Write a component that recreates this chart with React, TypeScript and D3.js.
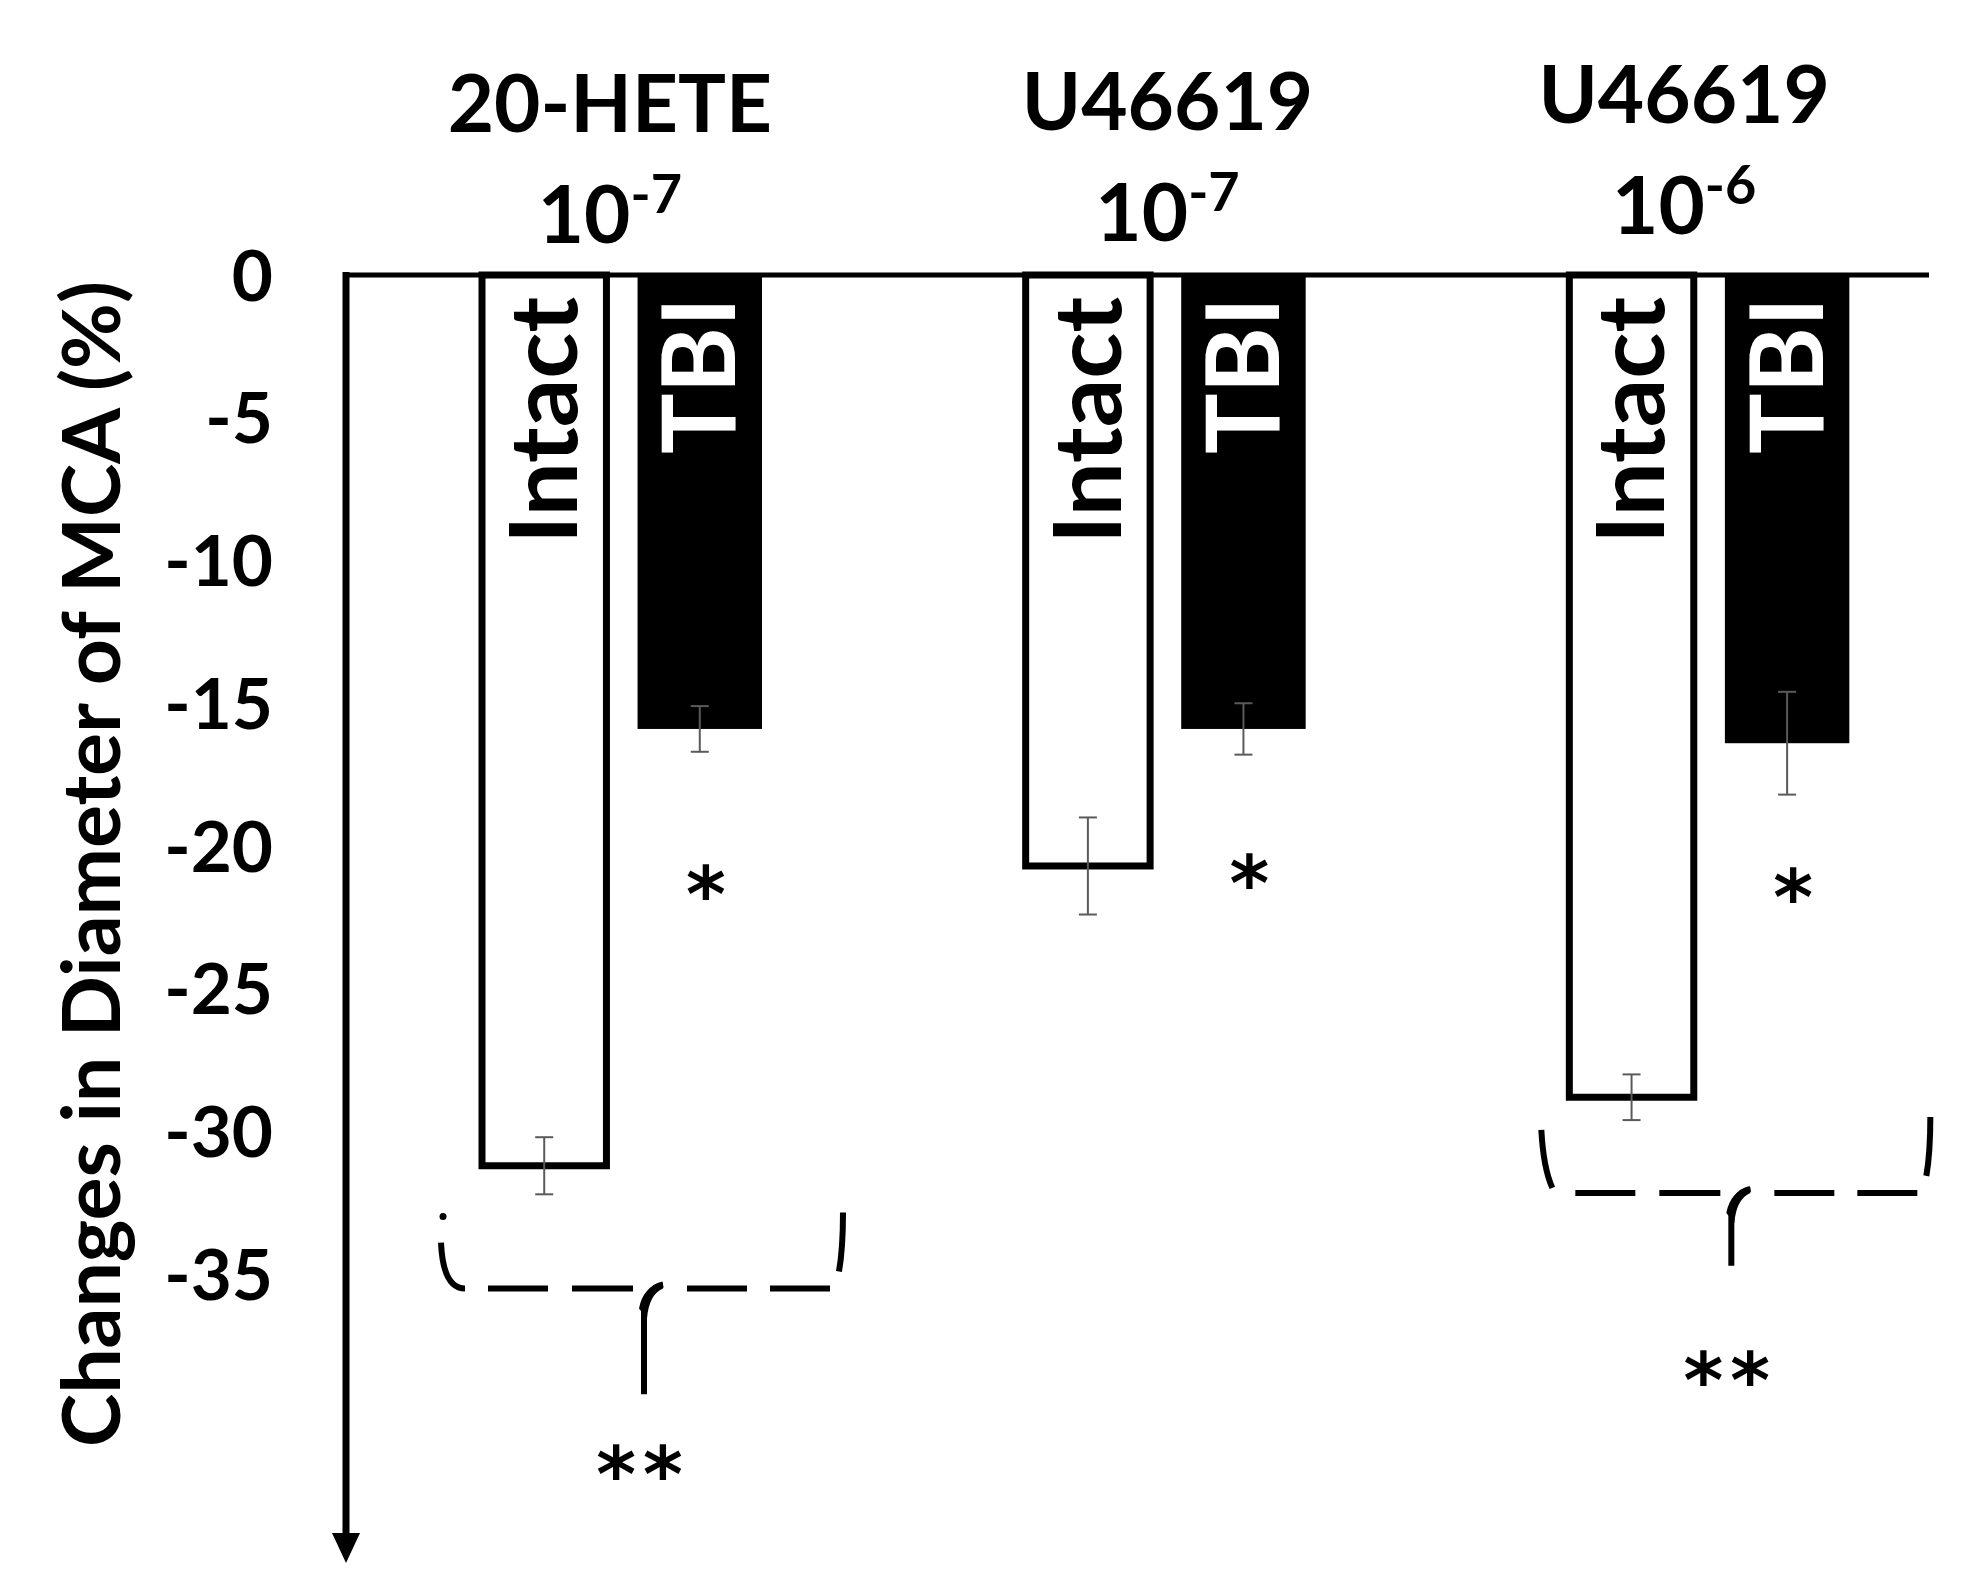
import React from "react";
import * as d3 from "d3";

// ---- data ----
const groupNames = ["20-HETE", "U46619", "U46619"];
const groupExponents = ["-7", "-7", "-6"];
const seriesNames = ["Intact", "TBI"];
const intactValues = [-31.2, -20.7, -28.8];
const intactErrors = [1.0, 1.7, 0.8];
const tbiValues = [-15.9, -15.9, -16.4];
const tbiErrors = [0.8, 0.9, 1.8];
const yTicks = [0, -5, -10, -15, -20, -25, -30, -35];
const singleStarY = [-21.1, -20.7, -21.2];
const bracketGroups = [0, 2];
const bracketY = [-35.5, -32.15];
const bracketStemEnd = [-39.2, -34.7];
const doubleStarY = [-41.4, -38.1];

const W = 1986;
const H = 1575;
const FONT = "Lato, 'Open Sans', 'DejaVu Sans', sans-serif";
const STAR_FONT = "'DejaVu Sans', sans-serif";

export default function App() {
  const keys = groupNames.map((_, i) => String(i));
  const x0 = d3.scaleBand<string>().domain(keys).range([350, 1981]).padding(0);
  const x1 = d3.scaleBand<string>().domain(seriesNames).range([132, 412]).paddingInner(0.2).paddingOuter(0);
  const y = d3.scaleLinear().domain([0, -35]).range([275, 275 + 35 * 28.55]);
  const bw = x1.bandwidth();
  const axisX = 346;
  const labelShift = [-12, 2, -25];
  const labelDy = [0, -2, -9];

  const bars: { g: number; s: string; v: number; e: number }[] = [];
  groupNames.forEach((_, g) => {
    bars.push({ g, s: "Intact", v: intactValues[g], e: intactErrors[g] });
    bars.push({ g, s: "TBI", v: tbiValues[g], e: tbiErrors[g] });
  });

  return (
    <svg
      width={W}
      height={H}
      viewBox={`0 0 ${W} ${H}`}
      style={{ position: "absolute", left: 0, top: 0, display: "block", background: "#fff" }}
    >
      <rect x={0} y={0} width={W} height={H} fill="#fff" />

      {/* group labels */}
      {groupNames.map((name, g) => {
        const cx = (x0(String(g)) as number) + x0.bandwidth() / 2 + labelShift[g];
        return (
          <g key={"lab" + g} fontFamily={FONT} fontWeight="bold" fill="#000" textAnchor="middle">
            <text x={cx} y={132 + labelDy[g]} fontSize={80}>
              {name}
            </text>
            <text x={cx} y={243 + labelDy[g]} fontSize={80}>
              10
              <tspan dy={-30} fontSize={54}>
                {groupExponents[g]}
              </tspan>
            </text>
          </g>
        );
      })}

      {/* bars */}
      {bars.map((b, i) => {
        const bx = (x0(String(b.g)) as number) + (x1(b.s) as number);
        const y0 = y(0);
        const y1 = y(b.v);
        const isIntact = b.s === "Intact";
        return (
          <rect
            key={"bar" + i}
            x={bx}
            y={y0}
            width={bw}
            height={y1 - y0}
            fill={isIntact ? "#fff" : "#000"}
            stroke="#000"
            strokeWidth={isIntact ? 7 : 0}
          />
        );
      })}

      {/* bar labels */}
      {bars.map((b, i) => {
        const cx = (x0(String(b.g)) as number) + (x1(b.s) as number) + bw / 2;
        const isIntact = b.s === "Intact";
        const fs = isIntact ? 94 : 102;
        return (
          <text
            key={"bl" + i}
            transform={`translate(${cx + fs * 0.35},${297}) rotate(-90)`}
            textAnchor="end"
            fontFamily={FONT}
            fontWeight="bold"
            fontSize={fs}
            textLength={isIntact ? 247 : 157}
            lengthAdjust="spacingAndGlyphs"
            fill={isIntact ? "#000" : "#fff"}
          >
            {b.s}
          </text>
        );
      })}

      {/* error bars */}
      {bars.map((b, i) => {
        const cx = (x0(String(b.g)) as number) + (x1(b.s) as number) + bw / 2;
        const ya = y(b.v - b.e);
        const yb = y(b.v + b.e);
        return (
          <g key={"err" + i} stroke="#5a5a5a" strokeWidth={2} fill="none">
            <line x1={cx} x2={cx} y1={ya} y2={yb} />
            <line x1={cx - 9} x2={cx + 9} y1={ya} y2={ya} />
            <line x1={cx - 9} x2={cx + 9} y1={yb} y2={yb} />
          </g>
        );
      })}

      {/* zero line */}
      <line x1={axisX - 3} x2={1929} y1={y(0)} y2={y(0)} stroke="#000" strokeWidth={5} />

      {/* y axis with arrow */}
      <line x1={axisX} x2={axisX} y1={y(0) - 3} y2={1536} stroke="#000" strokeWidth={7} />
      <path d={`M${axisX - 14},1533 L${axisX + 14},1533 L${axisX},1563 Z`} fill="#000" />

      {/* tick labels */}
      {yTicks.map((t) => (
        <text
          key={"t" + t}
          x={273}
          y={y(t)}
          dy="0.36em"
          textAnchor="end"
          fontFamily={FONT}
          fontWeight="bold"
          fontSize={71}
          fill="#000"
        >
          {t}
        </text>
      ))}

      {/* y axis title */}
      <text
        transform={`translate(120,864) rotate(-90)`}
        textAnchor="middle"
        fontFamily={FONT}
        fontWeight="bold"
        fontSize={80}
        textLength={1166}
        lengthAdjust="spacingAndGlyphs"
        fill="#000"
      >
        Changes in Diameter of MCA (%)
      </text>

      {/* single stars under TBI bars */}
      {singleStarY.map((sy, g) => {
        const cx = (x0(String(g)) as number) + (x1("TBI") as number) + bw / 2 + 6;
        return (
          <text
            key={"s" + g}
            x={cx}
            y={y(sy) + 0.58 * 76}
            textAnchor="middle"
            fontFamily={STAR_FONT}
            fontWeight="bold"
            fontSize={76}
            fill="#000"
          >
            *
          </text>
        );
      })}

      {/* brackets with double stars */}
      {bracketGroups.map((g, b) => {
        const bx = x0(String(g)) as number;
        const Y = y(bracketY[b]);
        const S = bx + 305;
        const stemEnd = y(bracketStemEnd[b]);
        const dashes = [
          [S - 167, S - 107],
          [S - 83, S - 22],
          [S + 32, S + 92],
          [S + 115, S + 175],
        ];
        return (
          <g key={"br" + b} stroke="#000" strokeWidth={6} fill="none" strokeLinecap="butt">
            {b === 0 ? (
              <>
                <circle cx={bx + 93} cy={Y - 72} r={3.5} fill="#000" stroke="none" />
                <path d={`M${bx + 91},${Y - 46} Q${bx + 93},${Y} ${bx + 115},${Y}`} />
              </>
            ) : (
              <path d={`M${bx + 104},${Y - 63} Q${bx + 106},${Y - 25} ${bx + 115},${Y - 5}`} />
            )}
            {dashes.map((d, k) => (
              <line key={k} x1={d[0]} x2={d[1]} y1={Y} y2={Y} />
            ))}
            <path d={`M${bx + 493},${Y - 76} Q${bx + 493},${Y - 40} ${bx + 489},${Y - 17}`} />
            <path d={`M${S + 8},${Y - 4} Q${S - 10},${Y} ${S - 11},${Y + 24} L${S - 11},${stemEnd}`} />
            <path
              d={`M${S + 8},${Y - 6} Q${S - 12},${Y - 2} ${S - 16},${Y + 20} L${S - 8},${Y + 30} Q${S - 6},${Y + 6} ${S + 8},${Y} Z`}
              fill="#000"
              stroke="none"
            />
            <text
              x={S - 12}
              y={y(doubleStarY[b]) + 0.58 * 76}
              textAnchor="middle"
              fontFamily={STAR_FONT}
              fontWeight="bold"
              fontSize={76}
              letterSpacing={7}
              fill="#000"
              stroke="none"
            >
              **
            </text>
          </g>
        );
      })}
    </svg>
  );
}
